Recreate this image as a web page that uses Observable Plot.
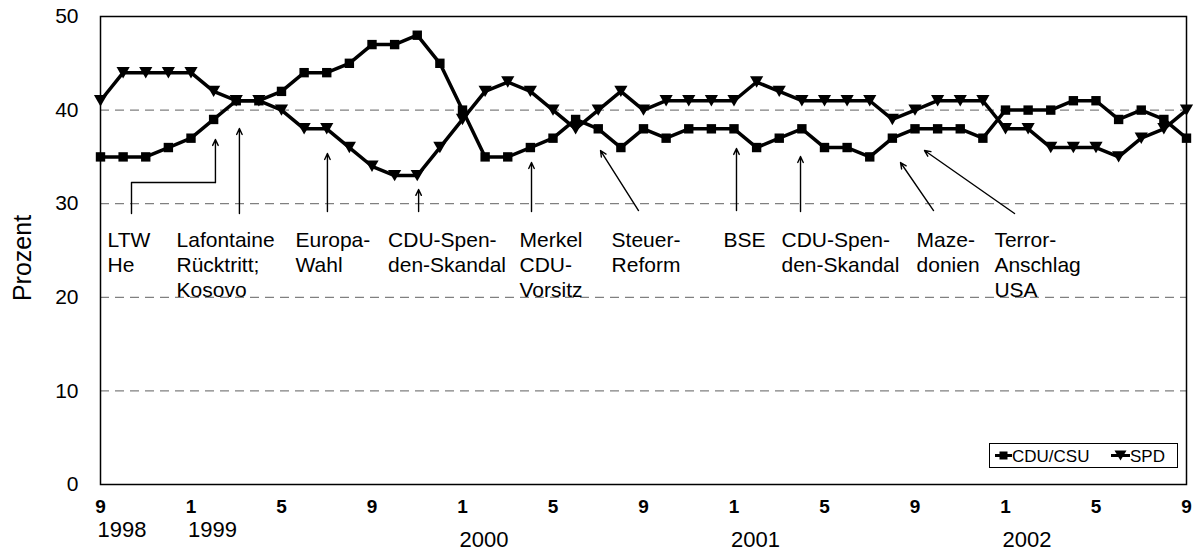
<!DOCTYPE html>
<html><head><meta charset="utf-8">
<script src="https://cdn.jsdelivr.net/npm/d3@7"></script>
<script src="https://cdn.jsdelivr.net/npm/@observablehq/plot@0.6"></script>
<style>
body{margin:0;background:#fff;font-family:"Liberation Sans",Arial,sans-serif;}
#wrap{position:relative;width:1194px;height:560px;}
#legend{position:absolute;left:989px;top:443px;width:187px;height:23px;border:1px solid #000;background:#fff;}
#legend svg{display:block}
</style></head><body><div id="wrap"></div>
<script>
// Monthly values, Sep 1998 .. Sep 2002
const cdu = [35,35,35,36,37,39,41,41,42,44,44,45,47,47,48,45,40,35,35,36,37,39,38,36,38,37,38,38,38,36,37,38,36,36,35,37,38,38,38,37,40,40,40,41,41,39,40,39,37];
const spd = [41,44,44,44,44,42,41,41,40,38,38,36,34,33,33,36,39,42,43,42,40,38,40,42,40,41,41,41,41,43,42,41,41,41,41,39,40,41,41,41,38,38,36,36,36,35,37,38,40];
const seriesNames = ["CDU/CSU", "SPD"];
// x-axis tick labels (every 4 months) and year labels
const tickLabels = ["9","1","5","9","1","5","9","1","5","9","1","5","9"];
const years = ["1998","1999","2000","2001","2002"];
const yearMonthIndex = [0,4,16,28,40];
const yTicks = [0,10,20,30,40,50];
const gridValues = [10,20,30,40];
const yTitle = "Prozent";
const yTitleAt = [24.2];
// annotations: label, text left (month index), text top (percent)
const annLabels = ["LTW\nHe","Lafontaine\nRücktritt;\nKosovo","Europa-\nWahl","CDU-Spen-\nden-Skandal","Merkel\nCDU-\nVorsitz","Steuer-\nReform","BSE","CDU-Spen-\nden-Skandal","Maze-\ndonien","Terror-\nAnschlag\nUSA"];
const annX = [0.31,3.36,8.62,12.71,18.52,22.59,27.54,30.10,36.07,39.51];
const annY = [27.24,27.24,27.24,27.24,27.24,27.24,27.24,27.24,27.24,27.24];
// arrows: start (x1,y1) -> tip (x2,y2) in month index / percent
const arrX1 = [5.08,6.14,10.03,14.06,19.05,23.78,28.11,30.94,36.82,40.40];
const arrY1 = [32.26,28.95,29.17,29.17,29.17,29.27,29.27,29.17,29.27,28.95];
const arrX2 = [5.08,6.14,10.03,14.06,19.05,22.10,28.11,30.94,35.36,36.42];
const arrY2 = [36.86,38.03,35.36,31.52,34.40,35.68,35.90,35.04,34.40,35.68];
// elbow connector for "LTW He"
const elbowX = [1.37,1.37,5.08];
const elbowY = [28.95,32.26,32.26];

const cduData = cdu.map((v,i)=>({i, v}));
const spdData = spd.map((v,i)=>({i, v}));
const tickPos = tickLabels.map((_,k)=>k*4);
const yearData = years.map((y,k)=>({y, m: yearMonthIndex[k], row: k<2 ? 0 : 1}));
const annData = annLabels.map((t,k)=>({t, x: annX[k], y: annY[k]}));
const arrData = arrX1.map((x,k)=>({x1:x, y1:arrY1[k], x2:arrX2[k], y2:arrY2[k]}));
const elbowData = elbowX.map((x,k)=>({x, y: elbowY[k]}));

const triDown = {draw(ctx, size){
  const s = Math.sqrt(size/(Math.sqrt(3)/4));
  const h = s*Math.sqrt(3)/2;
  ctx.moveTo(-s/2, -h/2); ctx.lineTo(s/2, -h/2); ctx.lineTo(0, h/2); ctx.closePath();
}};

const FONT = "Liberation Sans, Arial, sans-serif";
const chart = Plot.plot({
  width: 1194, height: 560,
  marginLeft: 100, marginRight: 8, marginTop: 16, marginBottom: 76,
  style: {fontFamily: FONT, background: "white", color: "black"},
  x: {domain: [0,48], axis: null},
  y: {domain: [0,50], axis: null},
  marks: [
    Plot.ruleY(gridValues, {stroke: "#808080", strokeDasharray: "9,6", strokeWidth: 1.3}),
    Plot.frame({stroke: "black", strokeWidth: 1.5}),
    Plot.axisY({ticks: yTicks, tickSize: 0, tickPadding: 22, fontSize: 21, label: null}),
    Plot.axisX({ticks: tickPos, tickFormat: d => tickLabels[d/4], tickSize: 0, tickPadding: 15, fontSize: 19, fontWeight: "bold", label: null}),
    Plot.text(yearData.filter(d=>d.row===0), {x: "m", text: "y", frameAnchor: "bottom", textAnchor: "start", dx: -3, dy: 52, fontSize: 22}),
    Plot.text(yearData.filter(d=>d.row===1), {x: "m", text: "y", frameAnchor: "bottom", textAnchor: "start", dx: -3, dy: 62, fontSize: 22}),
    Plot.text([yTitle], {y: yTitleAt, frameAnchor: "left", textAnchor: "middle", rotate: -90, dx: -78, fontSize: 25}),
    Plot.line(elbowData, {x: "x", y: "y", stroke: "black", strokeWidth: 1.4}),
    Plot.arrow(arrData, {x1: "x1", y1: "y1", x2: "x2", y2: "y2", stroke: "black", strokeWidth: 1.4, headLength: 7, headAngle: 50}),
    Plot.text(annData, {x: "x", y: "y", text: "t", textAnchor: "start", lineAnchor: "top", lineHeight: 1.18, fontSize: 21}),
    Plot.line(cduData, {x: "i", y: "v", stroke: "black", strokeWidth: 3.5}),
    Plot.line(spdData, {x: "i", y: "v", stroke: "black", strokeWidth: 3.5}),
    Plot.dot(cduData, {x: "i", y: "v", symbol: "square", r: 5.3, fill: "black", stroke: "none"}),
    Plot.dot(spdData, {x: "i", y: "v", symbol: triDown, r: 4.9, fill: "black", stroke: "none"})
  ]
});
const wrap = document.getElementById("wrap");
wrap.appendChild(chart);

// legend
const leg = document.createElement("div");
leg.id = "legend";
leg.innerHTML = `<svg width="187" height="23" font-family="${FONT}" font-size="17">
  <line x1="5" x2="22" y1="11.5" y2="11.5" stroke="black" stroke-width="3"/>
  <rect x="9.5" y="7.5" width="8" height="8" fill="black"/>
  <text x="22" y="17.5">${seriesNames[0]}</text>
  <line x1="121" x2="140" y1="11.5" y2="11.5" stroke="black" stroke-width="3"/>
  <path d="M124.5,6.5 L136.5,6.5 L130.5,16.5 Z" fill="black"/>
  <text x="140" y="17.5">${seriesNames[1]}</text>
</svg>`;
wrap.appendChild(leg);
</script></body></html>
